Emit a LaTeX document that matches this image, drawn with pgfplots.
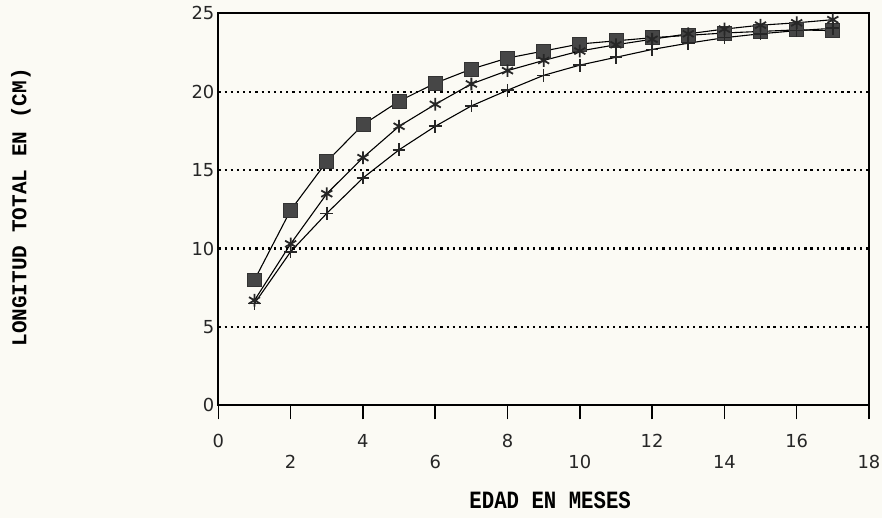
\documentclass[border=0pt]{standalone}
\usepackage{pgfplots}
\pgfplotsset{compat=1.18}
\usepackage{graphicx}
\usepackage{fontspec}
\newfontfamily\tickfont{DejaVu Sans}
\newfontfamily\labfont{Liberation Mono}
\definecolor{paper}{RGB}{251,250,244}
\definecolor{markfill}{RGB}{70,70,70}

% square markers
\pgfplotstableread{
x y
1 8.0
2 12.45
3 15.55
4 17.9
5 19.4
6 20.55
7 21.45
8 22.15
9 22.6
10 23.05
11 23.25
12 23.45
13 23.6
14 23.75
15 23.85
16 23.95
17 23.9
}\seriesA
% asterisk markers
\pgfplotstableread{
x y
1 6.7
2 10.3
3 13.5
4 15.8
5 17.8
6 19.2
7 20.5
8 21.35
9 22.0
10 22.6
11 23.0
12 23.35
13 23.7
14 24.0
15 24.25
16 24.4
17 24.6
}\seriesB
% plus markers
\pgfplotstableread{
x y
1 6.5
2 9.8
3 12.25
4 14.5
5 16.3
6 17.8
7 19.1
8 20.1
9 21.05
10 21.7
11 22.2
12 22.7
13 23.1
14 23.45
15 23.7
16 23.9
17 24.05
}\seriesC

\begin{document}
\begin{tikzpicture}
\fill[paper] (-109.75pt,-56.5pt) rectangle (333.75pt,203.5pt);
\begin{axis}[
  scale only axis,
  width=327pt, height=197pt,
  xmin=0, xmax=18, ymin=0, ymax=25,
  axis line style={line width=1pt},
  xtick={0,4,8,12,16},
  extra x ticks={2,6,10,14,18},
  extra x tick style={grid=none, xticklabel style={yshift=-10.5pt}},
  xticklabel style={yshift=-4pt},
  ytick={0,5,...,25},
  tick align=outside,
  major tick length=7pt,
  xtick pos=bottom, ytick pos=left,
  ytick style={draw=none},
  xtick style={line width=0.8pt, black},
  yticklabel style={xshift=8.5pt},
  ymajorgrids,
  grid style={black, line width=1.1pt, dash pattern=on 1.1pt off 2pt},
  ticklabel style={font=\tickfont\fontsize{9}{10}\selectfont, text=black!85},
  /pgf/number format/assume math mode=true,
  every axis x label/.style={at={(axis description cs:0.51,0)}, anchor=center, yshift=-47.5pt},
  every axis y label/.style={at={(axis description cs:-0.3035,0.505)}, rotate=90, anchor=center},
  xlabel={\labfont\bfseries\fontsize{10.4}{12}\selectfont\scalebox{1}[1.2]{EDAD EN MESES}},
  ylabel={\labfont\bfseries\fontsize{10.6}{12}\selectfont LONGITUD TOTAL EN (CM)},
  clip=false,
]
\addplot[black, line width=0.55pt, mark=square*, mark size=3.5pt,
  mark options={fill=markfill, draw=black!80, line width=0.4pt}] table {\seriesA};
\addplot[black, line width=0.55pt, mark=asterisk, mark size=3.2pt,
  mark options={line width=0.9pt, black!85}] table {\seriesB};
\addplot[black, line width=0.55pt, mark=+, mark size=3.2pt,
  mark options={line width=0.8pt, black!85}] table {\seriesC};
\end{axis}
\end{tikzpicture}
\end{document}
